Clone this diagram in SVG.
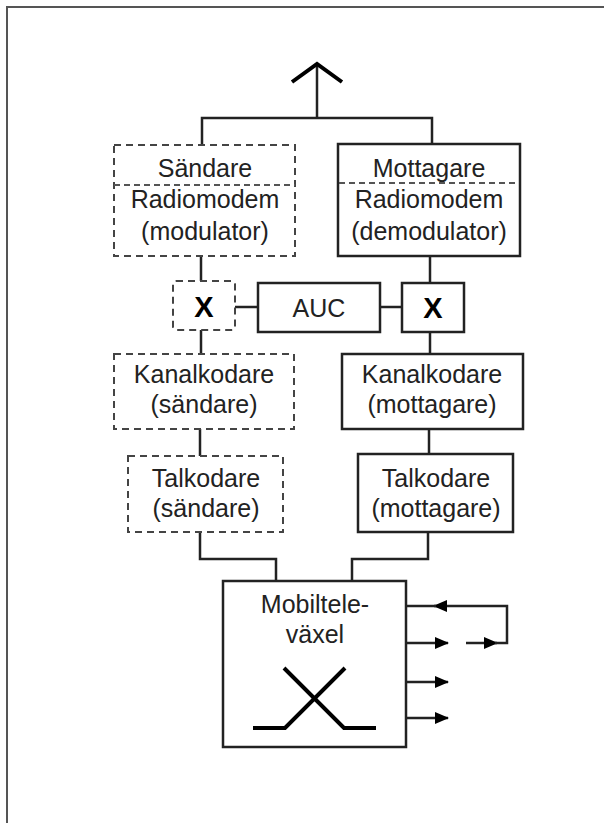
<svg xmlns="http://www.w3.org/2000/svg" width="604" height="823" viewBox="0 0 604 823">
<style>
text{font-family:"Liberation Sans",Arial,sans-serif;font-size:25px;fill:#222;text-anchor:middle}
.x{font-weight:bold;font-size:29px;fill:#000}
.solid{fill:#fff;stroke:#222;stroke-width:2.5}
.dash{fill:#fff;stroke:#444;stroke-width:2;stroke-dasharray:7 5}
.div{fill:none;stroke:#555;stroke-width:1.8;stroke-dasharray:6 4}
.con{fill:none;stroke:#222;stroke-width:2.5}
.frame{fill:none;stroke:#555;stroke-width:2}
</style>
<defs>
<marker id="ah" markerUnits="userSpaceOnUse" markerWidth="14" markerHeight="12" refX="13" refY="6" orient="auto">
<path d="M0,0 L14,6 L0,12 Z" fill="#000"/>
</marker>
</defs>
<path class="frame" d="M7,823 V7 H604"/>
<g id="connectors">
<path class="con" d="M317,66 V118"/>
<path d="M292,82 L317,64 L342,82" fill="none" stroke="#000" stroke-width="4"/>
<path class="con" d="M202,145 V118 H432 V144"/>
<path class="con" d="M201,256 V281"/>
<path class="con" d="M201,330 V354"/>
<path class="con" d="M200,429 V456"/>
<path class="con" d="M430,256 V283"/>
<path class="con" d="M430,332 V354"/>
<path class="con" d="M429,429 V454"/>
<path class="con" d="M235,307 H258"/>
<path class="con" d="M380,307 H402"/>
<path class="con" d="M200,532 V559 H276 V581"/>
<path class="con" d="M428,532 V559 H352 V581"/>
<path class="con" d="M406,643 H448" marker-end="url(#ah)"/>
<path class="con" d="M406,682 H448" marker-end="url(#ah)"/>
<path class="con" d="M406,718 H448" marker-end="url(#ah)"/>
<path class="con" d="M466,643 H497" marker-end="url(#ah)"/>
<path class="con" d="M495,643 H507 V606 H434" marker-end="url(#ah)"/>
<path class="con" d="M436,606 H406"/>
</g>
<g id="sandare">
<rect class="dash" x="114" y="145" width="181" height="111"/>
<path class="div" d="M114,185 H295"/>
<text x="205" y="177">Sändare</text>
<text x="205" y="208">Radiomodem</text>
<text x="205" y="240">(modulator)</text>
</g>
<g id="mottagare">
<rect class="solid" x="338" y="144" width="182" height="112"/>
<path class="div" d="M339,183 H519"/>
<text x="429" y="177">Mottagare</text>
<text x="429" y="208">Radiomodem</text>
<text x="429" y="240">(demodulator)</text>
</g>
<g id="x-left">
<rect class="dash" x="173" y="281" width="62" height="49" rx="3"/>
<text class="x" x="204" y="317">X</text>
</g>
<g id="auc">
<rect class="solid" x="258" y="283" width="122" height="49"/>
<text x="319" y="317">AUC</text>
</g>
<g id="x-right">
<rect class="solid" x="402" y="283" width="62" height="49"/>
<text class="x" x="433" y="318">X</text>
</g>
<g id="kanal-s">
<rect class="dash" x="114" y="354" width="180" height="75"/>
<text x="204" y="383">Kanalkodare</text>
<text x="204" y="413">(sändare)</text>
</g>
<g id="kanal-m">
<rect class="solid" x="342" y="354" width="181" height="75"/>
<text x="432" y="383">Kanalkodare</text>
<text x="432" y="413">(mottagare)</text>
</g>
<g id="tal-s">
<rect class="dash" x="128" y="456" width="155" height="76"/>
<text x="206" y="487">Talkodare</text>
<text x="206" y="517">(sändare)</text>
</g>
<g id="tal-m">
<rect class="solid" x="358" y="454" width="155" height="78"/>
<text x="436" y="487">Talkodare</text>
<text x="436" y="517">(mottagare)</text>
</g>
<g id="vaxel">
<rect class="solid" x="223" y="581" width="183" height="166"/>
<text x="315" y="613">Mobiltele-</text>
<text x="315" y="643">växel</text>
<path d="M284,668 L344,728 H376 M345,668 L285,728 H253" fill="none" stroke="#000" stroke-width="4"/>
</g>
</svg>
